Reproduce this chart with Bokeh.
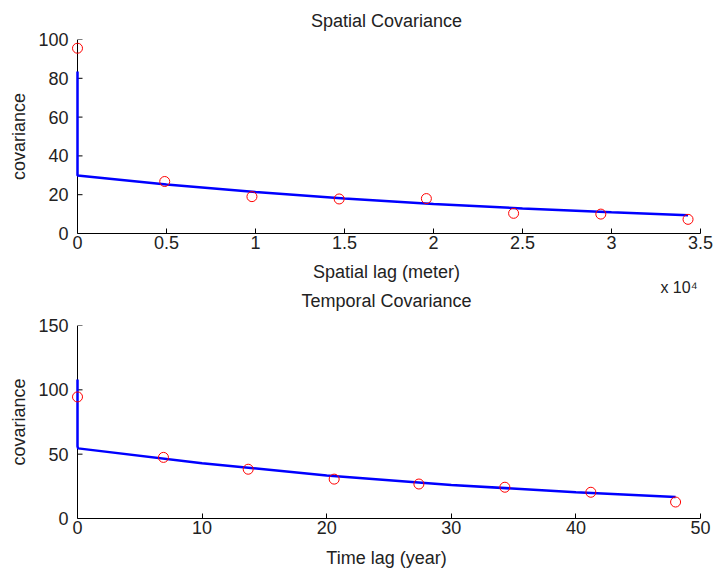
from bokeh.plotting import figure
from bokeh.layouts import column
from bokeh.models import Range1d, FixedTicker, CustomJSTickFormatter, Span, Title
from bokeh.embed import file_html
from bokeh.resources import INLINE

# ---- data: spatial covariance ----
sp_lag = [0, 4900, 9800, 14700, 19600, 24500, 29400, 34300]
sp_cov = [95.5, 26.8, 19.0, 17.8, 18.0, 10.4, 10.0, 7.3]
sp_fit_x = [0, 0, 0, 5000, 10000, 15000, 20000, 25000, 30000, 34300]
sp_fit_y = [83.5, 56.0, 29.9, 25.3, 21.4, 18.1, 15.2, 12.9, 10.9, 9.4]

# ---- data: temporal covariance ----
tm_lag = [0, 6.9, 13.7, 20.6, 27.4, 34.3, 41.2, 48.0]
tm_cov = [94.5, 47.5, 38.3, 30.6, 26.8, 24.3, 20.4, 12.8]
tm_fit_x = [0, 0, 0, 0.05, 10, 20, 30, 40, 48]
tm_fit_y = [108.0, 67.0, 56.0, 54.5, 42.9, 33.5, 26.1, 20.4, 16.8]

sp_xticks = [0, 5000, 10000, 15000, 20000, 25000, 30000, 35000]
sp_yticks = [0, 20, 40, 60, 80, 100]
tm_xticks = [0, 10, 20, 30, 40, 50]
tm_yticks = [0, 50, 100, 150]

FONT = "Liberation Sans"
TXT = "#222222"
FRAME_W = 628
PAD_PX = 5
TICK_PX = 5


def make_title(text, size, standoff, align="center", offset=0):
    return Title(text=text, align=align, offset=offset, standoff=standoff,
                 text_font=FONT, text_font_size=size,
                 text_font_style="normal", text_color=TXT)


def style(p, xlabel, ylabel, xticks, yticks):
    p.outline_line_color = None
    p.xgrid.visible = False
    p.ygrid.visible = False
    for ax in (p.xaxis[0], p.yaxis[0]):
        ax.major_tick_in = TICK_PX
        ax.major_tick_out = 0
        ax.minor_tick_line_color = None
        ax.axis_line_color = "black"
        ax.major_tick_line_color = "black"
        ax.major_label_text_font = FONT
        ax.major_label_text_font_size = "18px"
        ax.major_label_text_color = TXT
        ax.axis_label_text_font = FONT
        ax.axis_label_text_font_size = "18px"
        ax.axis_label_text_font_style = "normal"
        ax.axis_label_text_color = TXT
    p.xaxis[0].axis_label = xlabel
    p.yaxis[0].axis_label = ylabel
    p.xaxis[0].ticker = FixedTicker(ticks=xticks)
    p.yaxis[0].ticker = FixedTicker(ticks=yticks)
    p.xaxis[0].major_label_standoff = 2
    p.xaxis[0].axis_label_standoff = 10
    p.xaxis[0].bounds = (0, xticks[-1])
    # left axis: labels only; the line and ticks are drawn at x = 0
    p.yaxis[0].axis_line_color = None
    p.yaxis[0].major_tick_line_color = None
    p.yaxis[0].major_label_standoff = 4
    p.yaxis[0].axis_label_standoff = 6
    xspan = xticks[-1]
    px = xspan / (FRAME_W - PAD_PX)
    p.add_layout(Span(location=0, dimension="height", line_color="black",
                      line_width=1))
    p.segment(x0=[0] * len(yticks), y0=yticks,
              x1=[TICK_PX * px] * len(yticks), y1=yticks,
              line_color="black", line_width=1)


# ---- top figure ----
xmax1 = sp_xticks[-1]
pad1 = xmax1 * PAD_PX / (FRAME_W - PAD_PX)
p1 = figure(frame_width=FRAME_W, frame_height=194, output_backend="svg",
            toolbar_location=None,
            x_range=Range1d(-pad1, xmax1), y_range=Range1d(0, 100),
            min_border_left=72, min_border_right=13,
            min_border_top=38, min_border_bottom=80)
p1.title = make_title("Spatial Covariance", "18px", 17)
style(p1, "Spatial lag (meter)", "covariance", sp_xticks, sp_yticks)
p1.xaxis[0].formatter = CustomJSTickFormatter(code="return (tick/1e4).toString();")
p1.line(sp_fit_x, sp_fit_y, line_color="blue", line_width=2.5, level="overlay")
p1.scatter(sp_lag, sp_cov, marker="circle", size=10, fill_color=None,
           line_color="red", line_width=1, level="overlay")
# scale note under the lower right corner, then the second panel's heading
p1.add_layout(make_title("x 10\u2074", "16px", -16, align="right", offset=3),
              "below")
p1.add_layout(make_title("Temporal Covariance", "18px", 2), "below")

# ---- bottom figure ----
xmax2 = tm_xticks[-1]
pad2 = xmax2 * PAD_PX / (FRAME_W - PAD_PX)
p2 = figure(frame_width=FRAME_W, frame_height=193, output_backend="svg",
            toolbar_location=None,
            x_range=Range1d(-pad2, xmax2), y_range=Range1d(0, 150),
            min_border_left=72, min_border_right=13,
            min_border_top=12, min_border_bottom=57)
p2.title = None
style(p2, "Time lag (year)", "covariance", tm_xticks, tm_yticks)
p2.xaxis[0].axis_label_standoff = 11
p2.line(tm_fit_x, tm_fit_y, line_color="blue", line_width=2.5, level="overlay")
p2.scatter(tm_lag, tm_cov, marker="circle", size=10, fill_color=None,
           line_color="red", line_width=1, level="overlay")

layout = column(p1, p2, spacing=0)
open("out.html", "w").write(file_html(layout, INLINE))
